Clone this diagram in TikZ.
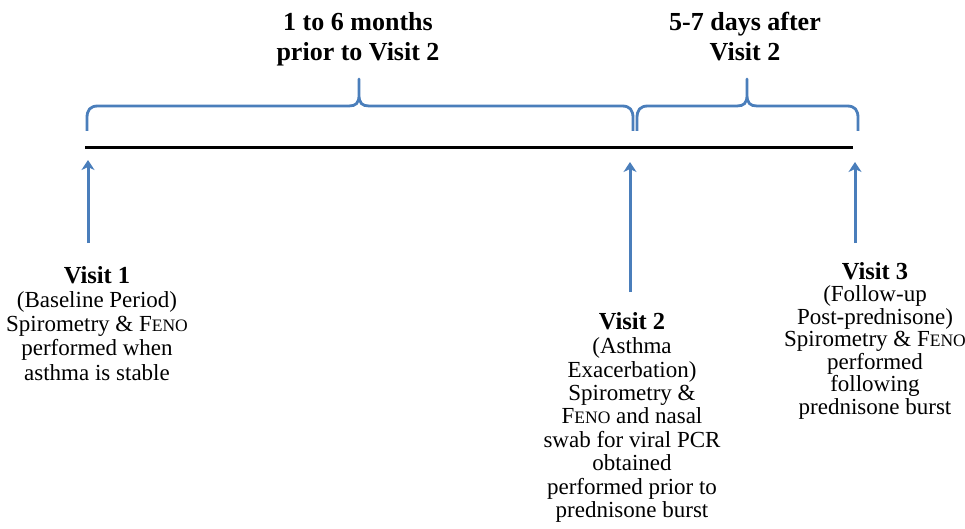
\documentclass[tikz,border=0pt]{standalone}
\usepackage{fontspec}
\setmainfont{Liberation Serif}
\usetikzlibrary{arrows.meta}
\definecolor{brblue}{HTML}{4A7EBB}
\newcommand{\myfeno}{F{\fontsize{17.5}{17.5}\selectfont ENO}}
\newcommand{\myhead}[1]{{\fontsize{24.5}{24.5}\selectfont\bfseries #1}}
\begin{document}
\begin{tikzpicture}[x=1pt,y=-1pt,
  bluebrace/.style={draw=brblue,line width=2.8pt,line join=round},
  bluearrow/.style={draw=brblue,line width=3pt,-{Stealth[length=10pt,width=13pt,inset=3pt]}},
  timeline/.style={draw=black,line width=3pt},
  titletext/.style={font=\fontsize{26}{30}\selectfont\bfseries,align=center,inner sep=0pt},
  visittext/.style={align=center,inner sep=0pt}]
\useasboundingbox (0,0) rectangle (965,529);

% timeline
\coordinate (tl0) at (85,148);
\coordinate (tl1) at (853,148);
\draw[timeline] (tl0) -- (tl1);

% braces
\draw[bluebrace] (87,131) -- (87,118) .. controls (87,110) and (90,106) .. (98,106)
  -- (349,106) .. controls (356,106) and (359,103) .. (359,95) -- (359,79)
  -- (359,95) .. controls (359,103) and (362,106) .. (369,106)
  -- (622,106) .. controls (630,106) and (633,110) .. (633,118) -- (633,131);
\draw[bluebrace] (637,131) -- (637,118) .. controls (637,110) and (640,106) .. (648,106)
  -- (737,106) .. controls (744,106) and (747,103) .. (747,95) -- (747,79)
  -- (747,95) .. controls (747,103) and (750,106) .. (757,106)
  -- (847,106) .. controls (855,106) and (858,110) .. (858,118) -- (858,131);

% titles
\node[titletext,anchor=north] (t1) at (358,12) {1 to 6 months\\prior to Visit 2};
\node[titletext,anchor=north] (t2) at (745,12) {5-7 days after\\Visit 2};

% arrows
\coordinate (a1s) at (88,243);
\coordinate (a1e) at (88,160);
\coordinate (a2s) at (630,292);
\coordinate (a2e) at (630,162);
\coordinate (a3s) at (855,243);
\coordinate (a3e) at (855,162);
\draw[bluearrow] (a1s) -- (a1e);
\draw[bluearrow] (a2s) -- (a2e);
\draw[bluearrow] (a3s) -- (a3e);

% visit texts
\node[visittext,font=\fontsize{23}{24.2}\selectfont,anchor=north] (v1) at (97,266)
  {\myhead{Visit 1}\\(Baseline Period)\\Spirometry \& \myfeno\\performed when\\asthma is stable};
\node[visittext,font=\fontsize{23}{23.4}\selectfont,anchor=north] (v2) at (632,312)
  {\myhead{Visit 2}\\[1pt](Asthma\\Exacerbation)\\Spirometry \&\\\myfeno{} and nasal\\swab for viral PCR\\obtained\\performed prior to\\prednisone burst};
\node[visittext,font=\fontsize{23}{22.5}\selectfont,anchor=north] (v3) at (875,262)
  {\myhead{Visit 3}\\(Follow-up\\Post-prednisone)\\Spirometry \& \myfeno\\performed\\following\\prednisone burst};
\end{tikzpicture}
\end{document}
